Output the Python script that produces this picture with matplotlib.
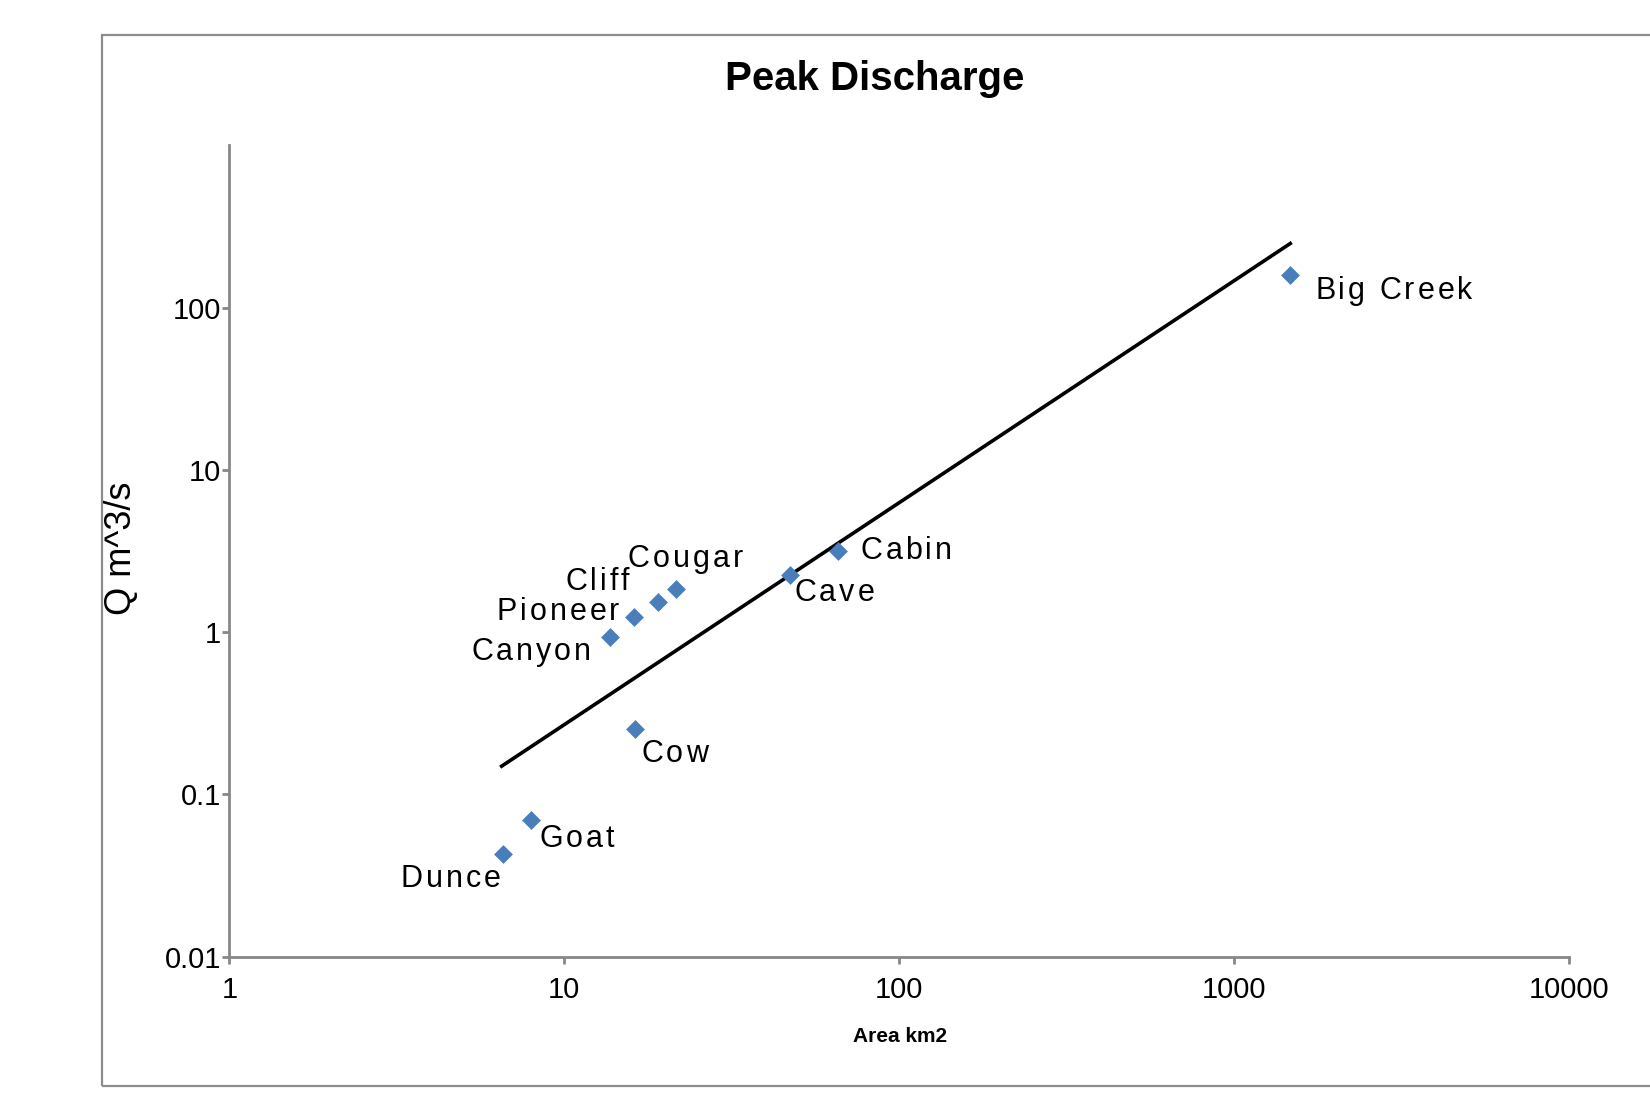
import matplotlib
matplotlib.use("Agg")
import matplotlib.pyplot as plt
from matplotlib.patches import Rectangle
from matplotlib.font_manager import FontProperties

plt.rcParams['font.family'] = ['Liberation Sans', 'DejaVu Sans']

# 流域面积 / 洪峰流量
sites = ['Dunce', 'Goat', 'Cow', 'Canyon', 'Pioneer', 'Cliff', 'Cougar',
         'Cave', 'Cabin', 'Big Creek']
area = [6.56, 7.97, 16.3, 13.7, 16.1, 19.0, 21.6, 47.3, 65.5, 1469]
peak_q = [0.0426, 0.0697, 0.251, 0.935, 1.24, 1.53, 1.83, 2.25, 3.18, 159]

# 拟合线两端点
fit_area = [6.5, 1470]
fit_q = [0.149, 248]

x_ticks = [1, 10, 100, 1000, 10000]
x_tick_labels = ['1', '10', '100', '1000', '10000']
y_ticks = [0.01, 0.1, 1, 10, 100]
y_tick_labels = ['0.01', '0.1', '1', '10', '100']

# 标签偏移 (像素) 和对齐方式
label_pos = {
    'Dunce': (-2, -25, 'right'),
    'Goat': (8, -19, 'left'),
    'Cow': (6, -25, 'left'),
    'Canyon': (-19, -15, 'right'),
    'Pioneer': (-14, 5, 'right'),
    'Cliff': (-29, 20, 'right'),
    'Cougar': (9, 30, 'center'),
    'Cave': (4, -18, 'left'),
    'Cabin': (23, 0, 'left'),
    'Big Creek': (25, -16, 'left'),
}


def spaced_label(ax, renderer, s, xy, dx, dy, ha, size, tracking):
    # 逐字放置, 字间距加宽
    fp = FontProperties(family=['Liberation Sans'], size=size)

    def width(t):
        if not t:
            return 0.0
        return renderer.get_text_width_height_descent(t, fp, ismath=False)[0]

    total = width(s) + tracking * (len(s) - 1)
    start = {'left': 0.0, 'center': -total / 2, 'right': -total}[ha]
    for i, ch in enumerate(s):
        if ch == ' ':
            continue
        off = start + width(s[:i]) + tracking * i
        ax.annotate(ch, xy, xytext=(dx + off, dy), textcoords='offset pixels',
                    ha='left', va='center', fontproperties=fp)


fig = plt.figure(figsize=(16.5, 11.08), dpi=100)
fig.patches.append(Rectangle((102 / 1650, 1 - 1086 / 1108), 1.0, (1086 - 35) / 1108,
                             transform=fig.transFigure, fill=False,
                             edgecolor='#8c8c8c', linewidth=1.6))

ax = fig.add_axes([0.139, 0.1367, 0.812, 0.7322])
ax.set_xscale('log')
ax.set_yscale('log')
ax.set_xlim(1, 10000)
ax.set_ylim(0.01, 1000)

ax.plot(fit_area, fit_q, color='black', linewidth=2.6, zorder=2)
ax.scatter(area, peak_q, marker='D', s=92, color='#4a7ebb', zorder=3,
           linewidths=0)

renderer = fig.canvas.get_renderer()
for name, x, y in zip(sites, area, peak_q):
    dx, dy, ha = label_pos[name]
    spaced_label(ax, renderer, name, (x, y), dx, dy, ha, 22, 3)

ax.set_xticks(x_ticks)
ax.set_xticklabels(x_tick_labels)
ax.set_yticks(y_ticks)
ax.set_yticklabels(y_tick_labels)
ax.minorticks_off()
ax.tick_params(axis='both', labelsize=21, color='#878787', width=2, length=5)
ax.tick_params(axis='x', pad=9)
ax.tick_params(axis='y', pad=1)

for side in ['top', 'right']:
    ax.spines[side].set_visible(False)
for side in ['left', 'bottom']:
    ax.spines[side].set_color('#878787')
    ax.spines[side].set_linewidth(2)

fig.text(875 / 1650, 1 - 79 / 1108, 'Peak Discharge', ha='center', va='center',
         fontsize=29, fontweight='bold')
fig.text(900 / 1650, 1 - 1037 / 1108, 'Area km2', ha='center', va='center',
         fontsize=15, fontweight='bold')
fig.text(121 / 1650, 1 - 548 / 1108, 'Q m^3/s', ha='center', va='center',
         fontsize=26, rotation=90)

plt.savefig('out.png', dpi=100)
